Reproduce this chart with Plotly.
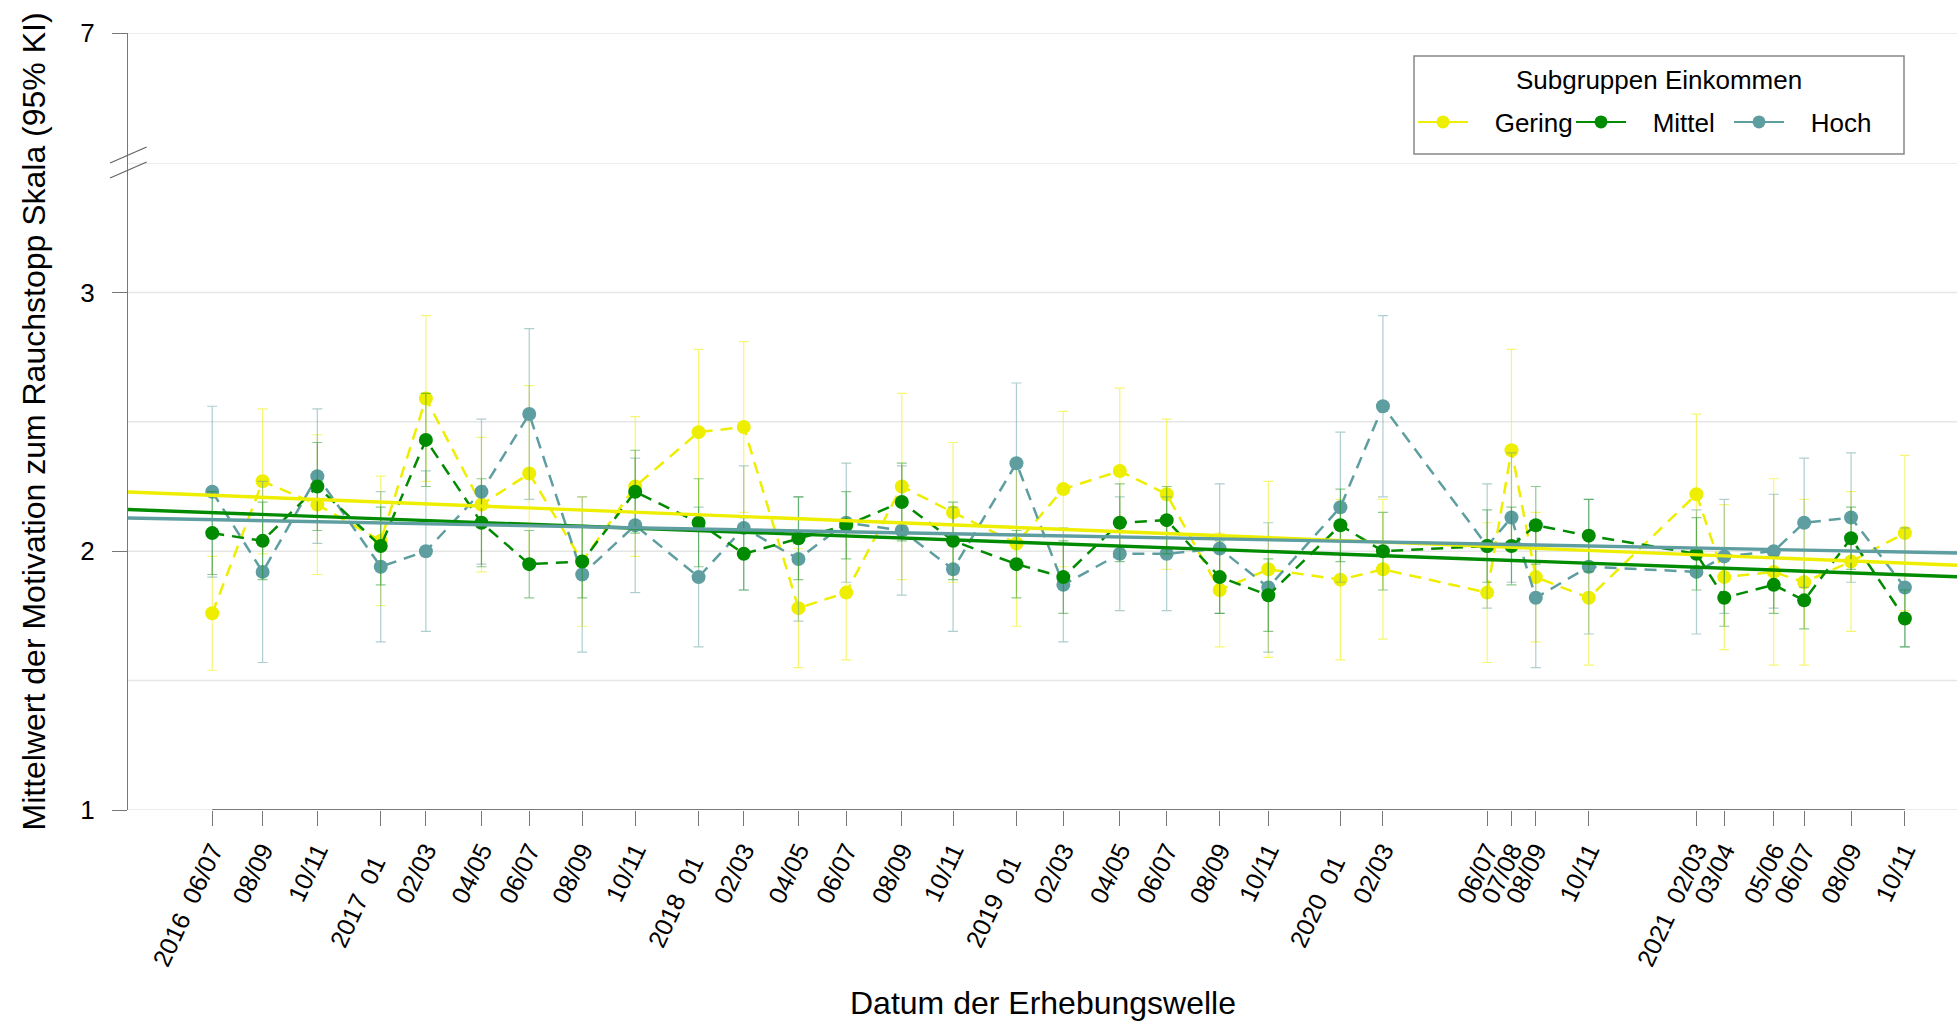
import plotly.graph_objects as go

# Survey waves (field date of each wave) and their axis labels
wave_dates = [
    "2016-07-01", "2016-08-28", "2016-10-30",
    "2017-01-11", "2017-03-04", "2017-05-07", "2017-07-01", "2017-08-31", "2017-10-31",
    "2018-01-12", "2018-03-05", "2018-05-07", "2018-07-01", "2018-09-03", "2018-11-01",
    "2019-01-13", "2019-03-08", "2019-05-12", "2019-07-05", "2019-09-04", "2019-10-30",
    "2020-01-21", "2020-03-10", "2020-07-08", "2020-08-05", "2020-09-02", "2020-11-02",
    "2021-03-06", "2021-04-07", "2021-06-03", "2021-07-08", "2021-08-31", "2021-11-01",
]
wave_months = [
    "06/07", "08/09", "10/11",
    "01", "02/03", "04/05", "06/07", "08/09", "10/11",
    "01", "02/03", "04/05", "06/07", "08/09", "10/11",
    "01", "02/03", "04/05", "06/07", "08/09", "10/11",
    "01", "02/03", "06/07", "07/08", "08/09", "10/11",
    "02/03", "03/04", "05/06", "06/07", "08/09", "10/11",
]
wave_years = {0: "2016", 3: "2017", 9: "2018", 15: "2019", 21: "2020", 27: "2021"}

# Mean motivation and 95% CI half-width per income subgroup
gering_mean = [1.76, 2.27, 2.18, 2.04, 2.59, 2.18, 2.30, 1.96, 2.25,
               2.46, 2.48, 1.78, 1.84, 2.25, 2.15, 2.03, 2.24, 2.31,
               2.22, 1.85, 1.93, 1.89, 1.93, 1.84, 2.39, 1.90, 1.82,
               2.22, 1.90, 1.92, 1.88, 1.96, 2.07]
gering_ci = [0.22, 0.28, 0.27, 0.25, 0.32, 0.26, 0.34, 0.25, 0.27,
             0.32, 0.33, 0.23, 0.26, 0.36, 0.27, 0.32, 0.30, 0.32,
             0.29, 0.22, 0.34, 0.31, 0.27, 0.27, 0.39, 0.25, 0.26,
             0.31, 0.28, 0.36, 0.32, 0.27, 0.30]

mittel_mean = [2.07, 2.04, 2.25, 2.02, 2.43, 2.11, 1.95, 1.96, 2.23,
               2.11, 1.99, 2.05, 2.10, 2.19, 2.04, 1.95, 1.90, 2.11,
               2.12, 1.90, 1.83, 2.10, 2.00, 2.02, 2.02, 2.10, 2.06,
               1.99, 1.82, 1.87, 1.81, 2.05, 1.74]
mittel_ci = [0.16, 0.15, 0.17, 0.15, 0.18, 0.17, 0.13, 0.14, 0.16,
             0.17, 0.14, 0.16, 0.13, 0.15, 0.15, 0.13, 0.14, 0.15,
             0.13, 0.14, 0.14, 0.14, 0.15, 0.14, 0.15, 0.15, 0.14,
             0.14, 0.11, 0.11, 0.11, 0.12, 0.11]

hoch_mean = [2.23, 1.92, 2.29, 1.94, 2.00, 2.23, 2.53, 1.91, 2.10,
             1.90, 2.09, 1.97, 2.11, 2.08, 1.93, 2.34, 1.87, 1.99,
             1.99, 2.01, 1.86, 2.17, 2.56, 2.02, 2.13, 1.82, 1.94,
             1.92, 1.98, 2.00, 2.11, 2.13, 1.86]
hoch_ci = [0.33, 0.35, 0.26, 0.29, 0.31, 0.28, 0.33, 0.30, 0.26,
           0.27, 0.24, 0.24, 0.23, 0.25, 0.24, 0.31, 0.22, 0.22,
           0.22, 0.25, 0.25, 0.29, 0.35, 0.24, 0.25, 0.27, 0.26,
           0.24, 0.22, 0.22, 0.25, 0.25, 0.23]

# Linear trend per subgroup, evaluated at both ends of the time axis
x_range = ["2016-03-26", "2021-12-31"]
gering_trend = [2.229, 1.946]
mittel_trend = [2.161, 1.901]
hoch_trend = [2.128, 1.993]

groups = ["Gering", "Mittel", "Hoch"]
colors = {"Gering": "#EEEE00", "Mittel": "#008B00", "Hoch": "#5F9EA0"}
bar_colors = {"Gering": "rgba(238,238,0,0.55)", "Mittel": "rgba(0,139,0,0.45)",
              "Hoch": "rgba(95,158,160,0.5)"}
means = {"Gering": gering_mean, "Mittel": mittel_mean, "Hoch": hoch_mean}
cis = {"Gering": gering_ci, "Mittel": mittel_ci, "Hoch": hoch_ci}
trends = {"Gering": gering_trend, "Mittel": mittel_trend, "Hoch": hoch_trend}

# Month labels are left-aligned in a fixed-width slot; the year sits below it
NB = "\u00a0"
tick_text = []
for i, m in enumerate(wave_months):
    tail = NB * 2 if len(m) == 2 else ""
    if i in wave_years:
        tick_text.append(wave_years[i] + NB * 2 + m + tail)
    else:
        tick_text.append(m + tail)

FONT = "Liberation Sans, Arial, sans-serif"
fig = go.Figure()

# Wave means with confidence intervals, joined by dashed lines
for g in ["Gering", "Hoch", "Mittel"]:
    fig.add_trace(go.Scatter(
        x=wave_dates, y=means[g], mode="lines+markers", showlegend=False,
        line=dict(color=colors[g], width=2.5, dash="12px,8px"),
        marker=dict(color=colors[g], size=14, line=dict(width=0)),
        error_y=dict(type="data", array=cis[g], color=bar_colors[g],
                     thickness=1.2, width=5),
        xaxis="x", yaxis="y",
    ))

# Trend lines across the whole time axis
for g in groups:
    fig.add_trace(go.Scatter(
        x=x_range, y=trends[g], mode="lines", showlegend=False,
        line=dict(color=colors[g], width=3.4), xaxis="x", yaxis="y",
    ))

# Legend entries
for g in groups:
    fig.add_trace(go.Scatter(
        x=[None], y=[None], mode="lines+markers", name=NB * 3 + g,
        line=dict(color=colors[g], width=2),
        marker=dict(color=colors[g], size=13),
        xaxis="x", yaxis="y",
    ))


def px_x(p):
    return (p - 128) / 1829


def px_y(p):
    return (810 - p) / 777


shapes = []
# Horizontal grid
for v in [1, 1.5, 2, 2.5, 3, 3.5]:
    shapes.append(dict(type="line", xref="paper", yref="y", x0=0, x1=1, y0=v, y1=v,
                       line=dict(color="#e6e6e6", width=1.5), layer="below"))
shapes.append(dict(type="line", xref="paper", yref="y2", x0=0, x1=1, y0=7, y1=7,
                   line=dict(color="#e6e6e6", width=1.5), layer="below"))
# x axis line between first and last wave
shapes.append(dict(type="line", xref="x", yref="y", x0=wave_dates[0], x1=wave_dates[-1],
                   y0=1, y1=1, line=dict(color="#555555", width=1.5)))
# axis break marks
LOW_TOP = px_y(163)
for dy in [0.0, -0.0193]:
    shapes.append(dict(type="line", xref="paper", yref="paper",
                       x0=-0.0098, x1=0.0102, y0=LOW_TOP + dy, y1=LOW_TOP + 0.0206 + dy,
                       line=dict(color="#666666", width=1.3)))
# legend frame
shapes.append(dict(type="rect", xref="paper", yref="paper",
                   x0=px_x(1414), x1=px_x(1904), y0=px_y(154), y1=px_y(56),
                   fillcolor="white", line=dict(color="#888888", width=1.5), layer="above"))

fig.update_layout(
    width=1957, height=1024,
    margin=dict(l=128, r=0, t=33, b=214),
    plot_bgcolor="white", paper_bgcolor="white",
    font=dict(family=FONT, size=25, color="#000000"),
    shapes=shapes,
    xaxis=dict(
        type="date", range=x_range, anchor="y",
        tickmode="array", tickvals=wave_dates, ticktext=tick_text,
        tickangle=-65, ticks="outside", ticklen=15, tickcolor="#777777", tickwidth=1.3,
        showgrid=False, showline=False, zeroline=False,
        tickfont=dict(size=25, family=FONT, color="#000000"),
    ),
    yaxis=dict(
        domain=[0, LOW_TOP], range=[1, 3.5],
        tickmode="array", tickvals=[1, 2, 3], ticktext=["1", "2", "3"],
        ticks="outside", ticklen=15, tickcolor="#777777", tickwidth=1.3,
        showgrid=False, zeroline=False,
        showline=True, linecolor="#777777", linewidth=1.3,
        tickfont=dict(size=26, family=FONT, color="#000000"),
        ticklabelstandoff=12,
    ),
    yaxis2=dict(
        domain=[LOW_TOP, 1], range=[3.5, 7], anchor="x",
        tickmode="array", tickvals=[7], ticktext=["7"],
        ticks="outside", ticklen=15, tickcolor="#777777", tickwidth=1.3,
        showgrid=False, zeroline=False,
        showline=True, linecolor="#777777", linewidth=1.3,
        tickfont=dict(size=26, family=FONT, color="#000000"),
        ticklabelstandoff=12,
    ),
    legend=dict(
        orientation="h", x=px_x(1413), xanchor="left",
        y=px_y(122), yanchor="middle",
        bgcolor="rgba(0,0,0,0)", borderwidth=0,
        font=dict(size=26, family=FONT, color="#000000"),
        itemwidth=50, entrywidth=93,
    ),
    annotations=[
        dict(text="Mittelwert der Motivation zum Rauchstopp Skala (95% KI)",
             xref="paper", yref="paper", x=px_x(33), y=0.5,
             xanchor="center", yanchor="middle", textangle=-90, showarrow=False,
             font=dict(size=32, family=FONT, color="#000000")),
        dict(text="Datum der Erhebungswelle", xref="paper", yref="paper",
             x=0.5 * (px_x(680 * 1.248) + px_x(992 * 1.248)), y=px_y(1003),
             xanchor="center", yanchor="middle", showarrow=False,
             font=dict(size=32, family=FONT, color="#000000")),
        dict(text="Subgruppen Einkommen", xref="paper", yref="paper",
             x=px_x(1659), y=px_y(80), xanchor="center", yanchor="middle",
             showarrow=False, font=dict(size=26, family=FONT, color="#000000")),
    ],
)

fig.write_html("out.html")
